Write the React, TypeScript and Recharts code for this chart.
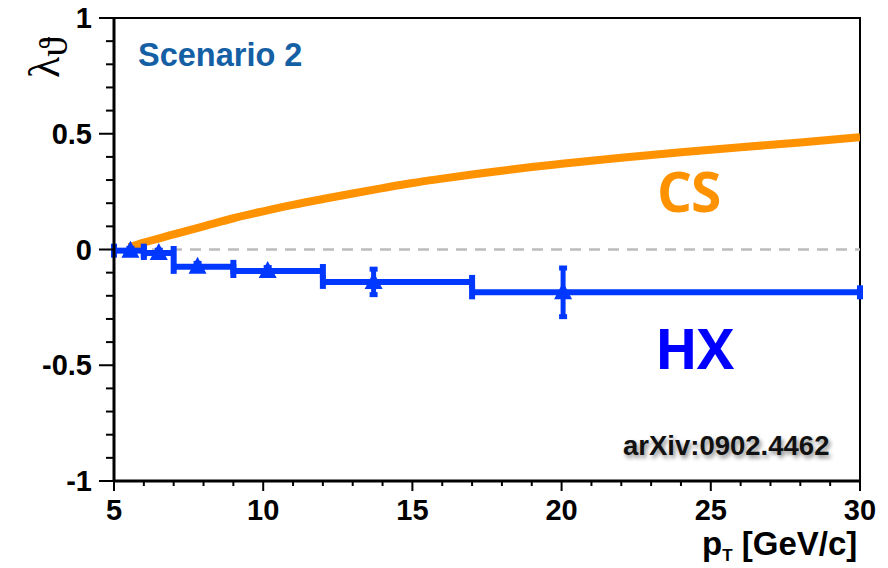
import React from 'react';
import { ComposedChart, Line, Scatter, XAxis, YAxis, ErrorBar, ReferenceLine, ReferenceArea } from 'recharts';

// CS frame prediction (smooth curve)
const csPt = [5.5, 6, 7, 8, 9, 10, 11, 12, 13, 14, 15, 16, 17, 18, 19, 20, 22, 24, 26, 28, 30];
const csLambda = [0.01, 0.03, 0.065, 0.1, 0.135, 0.165, 0.193, 0.218, 0.242, 0.265, 0.287, 0.306, 0.324, 0.34, 0.356, 0.37, 0.396, 0.42, 0.442, 0.462, 0.485];

// HX frame points with bin edges and errors
const hxPt = [5.55, 6.5, 7.8, 10.15, 13.7, 20.05];
const hxLambda = [-0.005, -0.015, -0.075, -0.093, -0.14, -0.185];
const hxBinLow = [5, 6, 7, 9, 12, 17];
const hxBinHigh = [6, 7, 9, 12, 17, 30];
const hxErr = [0.01, 0.012, 0.015, 0.015, 0.055, 0.105];

const xTicks = [5, 6, 7, 8, 9, 10, 11, 12, 13, 14, 15, 16, 17, 18, 19, 20, 21, 22, 23, 24, 25, 26, 27, 28, 29, 30];
const yTicks = [-1, -0.9, -0.8, -0.7, -0.6, -0.5, -0.4, -0.3, -0.2, -0.1, 0, 0.1, 0.2, 0.3, 0.4, 0.5, 0.6, 0.7, 0.8, 0.9, 1];

const csData = csPt.map((pt, i) => ({ pt, cs: csLambda[i] }));
const hxData = hxPt.map((pt, i) => ({
    pt,
    hx: hxLambda[i],
    xErr: [pt - hxBinLow[i], hxBinHigh[i] - pt],
    yErr: hxErr[i],
}));

const BLUE = '#0038ff';
const ORANGE = '#ff9200';
const FONT = '"Liberation Sans", Arial, sans-serif';

const XTick = ({ x, y, payload }: any) => {
    const major = payload.value % 5 === 0;
    return (
        <g>
            <line x1={x} x2={x} y1={y} y2={y + (major ? 10 : 5)} stroke="#000" strokeWidth={2} />
            {major && (
                <text x={x} y={y + 39} textAnchor="middle" fontFamily={FONT} fontWeight="bold" fontSize={29} fill="#000">
                    {payload.value}
                </text>
            )}
        </g>
    );
};

const YTick = ({ x, y, payload }: any) => {
    const v = payload.value;
    const major = Math.abs(v * 2 - Math.round(v * 2)) < 1e-6;
    return (
        <g>
            <line x1={x - (major ? 15 : 8)} x2={x} y1={y} y2={y} stroke="#000" strokeWidth={2} />
            {major && (
                <text x={x - 22} y={y + 10} textAnchor="end" fontFamily={FONT} fontWeight="bold" fontSize={29} fill="#000">
                    {v}
                </text>
            )}
        </g>
    );
};

const Triangle = ({ cx, cy }: any) => (
    <polygon points={`${cx},${cy - 10} ${cx - 9},${cy + 7} ${cx + 9},${cy + 7}`} fill={BLUE} />
);

export default function App() {
    return (
        <div style={{ position: 'absolute', left: 0, top: 0, width: 888, height: 568, background: '#fff' }}>
            <ComposedChart width={888} height={568} margin={{ top: 18, right: 28, bottom: 47, left: 54 }}>
                <XAxis
                    dataKey="pt"
                    type="number"
                    domain={[5, 30]}
                    ticks={xTicks}
                    interval={0}
                    tickSize={0}
                    tickMargin={0}
                    tick={<XTick />}
                    tickLine={false}
                    axisLine={{ stroke: '#000', strokeWidth: 3 }}
                    height={40}
                    allowDataOverflow
                />
                <YAxis
                    type="number"
                    domain={[-1, 1]}
                    ticks={yTicks}
                    interval={0}
                    tickSize={0}
                    tickMargin={0}
                    tick={<YTick />}
                    tickLine={false}
                    axisLine={{ stroke: '#000', strokeWidth: 3 }}
                    width={60}
                    allowDataOverflow
                />
                <ReferenceArea x1={5} x2={30} y1={-1} y2={1} fill="none" stroke="#000" strokeWidth={2} />
                <ReferenceLine y={0} stroke="#bcbcbc" strokeWidth={2.5} strokeDasharray="11 8" />
                <Line
                    data={csData}
                    dataKey="cs"
                    type="monotone"
                    stroke={ORANGE}
                    strokeWidth={8}
                    dot={false}
                    isAnimationActive={false}
                />
                <Scatter data={hxData} dataKey="hx" fill={BLUE} shape={<Triangle />} isAnimationActive={false}>
                    <ErrorBar dataKey="xErr" direction="x" width={7} strokeWidth={6} stroke={BLUE} />
                    <ErrorBar dataKey="yErr" direction="y" width={4} strokeWidth={5} stroke={BLUE} />
                </Scatter>
            </ComposedChart>

            <div style={{ position: 'absolute', left: 138, top: 37, fontFamily: FONT, fontWeight: 'bold', fontSize: 32.5, color: '#1560a5' }}>
                Scenario 2
            </div>
            <div style={{ position: 'absolute', left: 657, top: 153, fontFamily: '"Open Sans", sans-serif', fontWeight: 'bold', fontSize: 55, color: ORANGE, letterSpacing: -1 }}>
                CS
            </div>
            <div style={{ position: 'absolute', left: 655, top: 309, fontFamily: '"Open Sans", sans-serif', fontWeight: 'bold', fontSize: 56, color: '#0000ff', letterSpacing: -1 }}>
                HX
            </div>
            <div style={{ position: 'absolute', left: 623, top: 430, fontFamily: FONT, fontWeight: 'bold', fontSize: 27.5, color: '#111', textShadow: '2px 3px 4px rgba(0,0,0,0.45)' }}>
                arXiv:0902.4462
            </div>
            <div style={{ position: 'absolute', left: 702, top: 532, fontFamily: FONT, fontWeight: 'bold', fontSize: 33, lineHeight: '24px', color: '#000', whiteSpace: 'nowrap' }}>
                p<span style={{ fontSize: 17, position: 'relative', top: 6 }}>T</span> [GeV/c]
            </div>
            <div style={{ position: 'absolute', left: 10, top: 18, width: 70, height: 50, transform: 'rotate(-90deg)', fontFamily: '"Liberation Serif", serif', fontSize: 44, color: '#000', whiteSpace: 'nowrap', lineHeight: '50px' }}>
                λ<span style={{ fontSize: 40, position: 'relative', top: 8 }}>ϑ</span>
            </div>
        </div>
    );
}
